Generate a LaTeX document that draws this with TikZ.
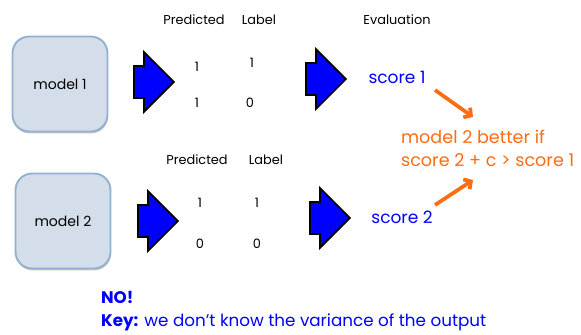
\documentclass[tikz,border=0pt]{standalone}
\usepackage{fontspec}
\setmainfont{Poppins}
\usetikzlibrary{shapes.arrows,shadows,arrows.meta}
\definecolor{boxfill}{RGB}{212,222,234}
\definecolor{boxline}{RGB}{146,176,207}
\definecolor{evalorange}{RGB}{255,108,20}
\begin{document}
\begin{tikzpicture}[
  x=0.03cm, y=-0.03cm,
  model/.style={draw=boxline, line width=1.6pt, fill=boxfill, rounded corners=0.5cm,
    minimum width=2.85cm, minimum height=2.85cm, font=\fontsize{12}{14}\selectfont,
    drop shadow={shadow xshift=0.4pt, shadow yshift=-1.6pt, opacity=0.45}},
  bigarrow/.style={single arrow, draw=black, line width=1.5pt, fill=blue,
    inner xsep=0pt, inner ysep=0.45cm, minimum height=1.2cm,
    single arrow head extend=0.42cm},
  heading/.style={font=\fontsize{11}{13}\selectfont},
  value/.style={font=\fontsize{11}{13}\selectfont},
  score/.style={text=blue, font=\fontsize{14.5}{17}\selectfont},
  pointer/.style={evalorange, line width=3.2pt, -{Straight Barb[length=4.5pt,width=10pt]}},
]
  \useasboundingbox (0,0) rectangle (581,335);
  % first model
  \node[model] (m1) at (60,84) {model 1};
  \node[bigarrow] (a1) at (146,82) {};
  \node[heading] (p1) at (194,20) {Predicted};
  \node[heading] (l1) at (259,20) {Label};
  \node[value] (p1a) at (197,67) {1};
  \node[value] (l1a) at (252,63) {1};
  \node[value] (p1b) at (197,103) {1};
  \node[value] (l1b) at (250,103) {0};
  \node[bigarrow] (a2) at (318,79) {};
  \node[heading] (ev) at (397,20) {Evaluation};
  \node[score] (s1) at (397,77) {score 1};
  % second model
  \node[model] (m2) at (63,221) {model 2};
  \node[bigarrow] (a3) at (150,221) {};
  \node[heading] (p2) at (197,160) {Predicted};
  \node[heading] (l2) at (266,160) {Label};
  \node[value] (p2a) at (200,203) {1};
  \node[value] (l2a) at (257,203) {1};
  \node[value] (p2b) at (200,244) {0};
  \node[value] (l2b) at (257,244) {0};
  \node[bigarrow] (a4) at (322,218) {};
  \node[score] (s2) at (402,217) {score 2};
  % comparison
  \node[text=evalorange, font=\fontsize{15}{19.5}\selectfont, align=left, anchor=west]
    (cmp) at (397,148.5) {model 2 better if\\score 2 + c > score 1};
  \coordinate (t1) at (473,117);
  \coordinate (t2) at (473,180);
  \draw[pointer] (435,90) -- (t1);
  \draw[pointer] (435,205) -- (t2);
  % conclusion
  \node[text=blue, font=\fontsize{14.3}{19.5}\selectfont, align=left, anchor=west]
    (key) at (97,311.5) {\textbf{NO!}\\\textbf{Key:} we don't know the variance of the output};
\end{tikzpicture}
\end{document}
